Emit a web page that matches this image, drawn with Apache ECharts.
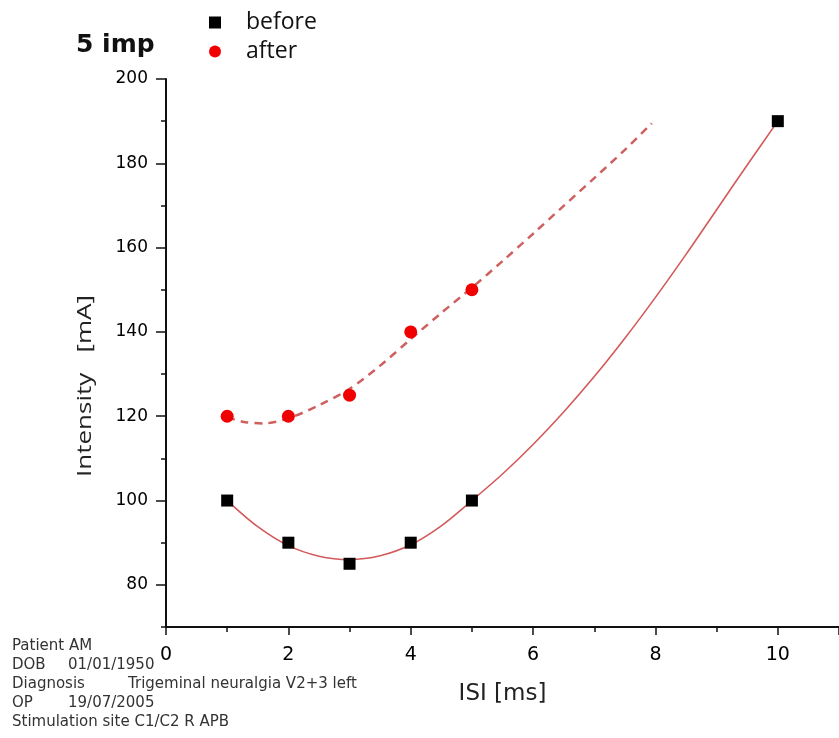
<!DOCTYPE html>
<html>
<head>
<meta charset="utf-8">
<script src="https://cdn.jsdelivr.net/npm/echarts@6/dist/echarts.min.js"></script>
<style>html,body{margin:0;padding:0;background:#fff}#c{width:839px;height:738px}</style>
</head>
<body>
<div id="c"></div>
<script>
// ---- data ----
const beforeX = [1, 2, 3, 4, 5, 10];
const beforeY = [100, 90, 85, 90, 100, 190];
const afterX = [1, 2, 3, 4, 5];
const afterY = [120, 120, 125, 140, 150];
// fitted curves
const beforeFitX = [1, 1.5, 2, 2.5, 3, 3.5, 4, 4.5, 5, 5.5, 6, 6.5, 7, 7.5, 8, 8.5, 9, 9.5, 10];
const beforeFitY = [100, 93.8, 89.3, 86.8, 86.0, 86.9, 89.5, 94.0, 100, 106.3, 113.3, 121.0, 129.4, 138.5, 148.2, 158.4, 169.0, 179.6, 190];
const afterFitX = [1, 1.25, 1.6, 2, 2.5, 3, 3.5, 4, 4.5, 5, 5.5, 6, 6.5, 7, 7.5, 7.94];
const afterFitY = [119.8, 118.7, 118.3, 119.5, 122.6, 126.5, 132.0, 138.3, 144.5, 150.5, 156.8, 163.3, 169.9, 176.5, 183.2, 189.5];
const yMajorTicks = [80, 100, 120, 140, 160, 180, 200];
const yMinorTicks = [70, 90, 110, 130, 150, 170, 190];
const infoLines = [
  ['Patient AM', ''],
  ['DOB', '01/01/1950'],
  ['Diagnosis', 'Trigeminal neuralgia V2+3 left'],
  ['OP', '19/07/2005'],
  ['Stimulation site C1/C2 R APB', '']
];

const zip = (xs, ys) => xs.map((x, i) => [x, ys[i]]);

const chart = echarts.init(document.getElementById('c'), null, {renderer: 'canvas'});

const infoGraphics = [];
infoLines.forEach((ln, i) => {
  const y = 646 + i * 19;
  infoGraphics.push({type: 'text', x: 12, y: y, style: {text: ln[0], font: '15px "DejaVu Sans"', fill: '#333', textVerticalAlign: 'middle'}});
  if (ln[1]) {
    infoGraphics.push({type: 'text', x: i === 2 ? 128 : 68, y: y, style: {text: ln[1], font: '15px "DejaVu Sans"', fill: '#333', textVerticalAlign: 'middle'}});
  }
});

const option = {
  animation: false,
  backgroundColor: '#fff',
  title: {
    text: '5 imp', left: 71, top: 28,
    textStyle: {fontFamily: 'DejaVu Sans', fontWeight: 'bold', fontSize: 25, color: '#111'}
  },
  legend: {
    orient: 'vertical', left: 204, top: 6,
    itemWidth: 12, itemHeight: 12, itemGap: 6,
    data: [{name: 'before', icon: 'rect'}, {name: 'after', icon: 'circle'}],
    textStyle: {fontFamily: 'Open Sans', fontSize: 23, color: '#111', padding: [0, 0, 0, 20]}
  },
  grid: {left: 166, right: -7, top: 79, bottom: 111, containLabel: false},
  xAxis: {
    type: 'value', min: 0, max: 11, interval: 2,
    name: 'ISI [ms]', nameLocation: 'middle', nameGap: 56,
    nameTextStyle: {fontFamily: 'DejaVu Sans', fontSize: 23, color: '#222'},
    axisLine: {show: true, lineStyle: {color: '#111', width: 2}},
    axisTick: {show: true, length: 8, lineStyle: {color: '#111', width: 1.5}},
    minorTick: {show: true, splitNumber: 2, length: 5, lineStyle: {color: '#111', width: 1.5}},
    axisLabel: {showMaxLabel: false, fontFamily: 'DejaVu Sans', fontSize: 19, color: '#000', margin: 19},
    splitLine: {show: false}
  },
  yAxis: [{
    type: 'value', min: 70, max: 200, interval: 10, position: 'left',
    axisLine: {show: true, lineStyle: {color: '#111', width: 2}},
    axisTick: {show: true, customValues: yMajorTicks, length: 10, lineStyle: {color: '#111', width: 1.5}},
    axisLabel: {customValues: yMajorTicks, fontFamily: 'DejaVu Sans', fontSize: 17, color: '#000', margin: 18},
    splitLine: {show: false}
  }, {
    type: 'value', min: 70, max: 200, interval: 10, position: 'left', offset: 0,
    axisLine: {show: false},
    axisTick: {show: true, customValues: yMinorTicks, length: 5, lineStyle: {color: '#111', width: 1.5}},
    axisLabel: {show: false},
    splitLine: {show: false}
  }],
  graphic: [
    {type: 'text', x: 85, y: 386, rotation: Math.PI / 2,
     style: {text: 'Intensity   [mA]', font: '20px "Open Sans"', fill: '#222', textAlign: 'center', textVerticalAlign: 'middle'},
     scaleX: 1.3}
  ].concat(infoGraphics),
  series: [
    {name: 'before fit', type: 'line', data: zip(beforeFitX, beforeFitY), smooth: 0.3, showSymbol: false,
     lineStyle: {color: '#d25a5a', width: 1.6}, z: 2, silent: true},
    {name: 'after fit', type: 'line', data: zip(afterFitX, afterFitY), smooth: 0.3, showSymbol: false,
     lineStyle: {color: '#cf6060', width: 2.5, type: [8, 6]}, z: 2, silent: true},
    {name: 'before', type: 'scatter', data: zip(beforeX, beforeY), symbol: 'rect', symbolSize: 12,
     itemStyle: {color: '#000', opacity: 1}, z: 3},
    {name: 'after', type: 'scatter', data: zip(afterX, afterY), symbol: 'circle', symbolSize: 13,
     itemStyle: {color: '#f00000', opacity: 1}, z: 3}
  ]
};
chart.setOption(option);
</script>
</body>
</html>
